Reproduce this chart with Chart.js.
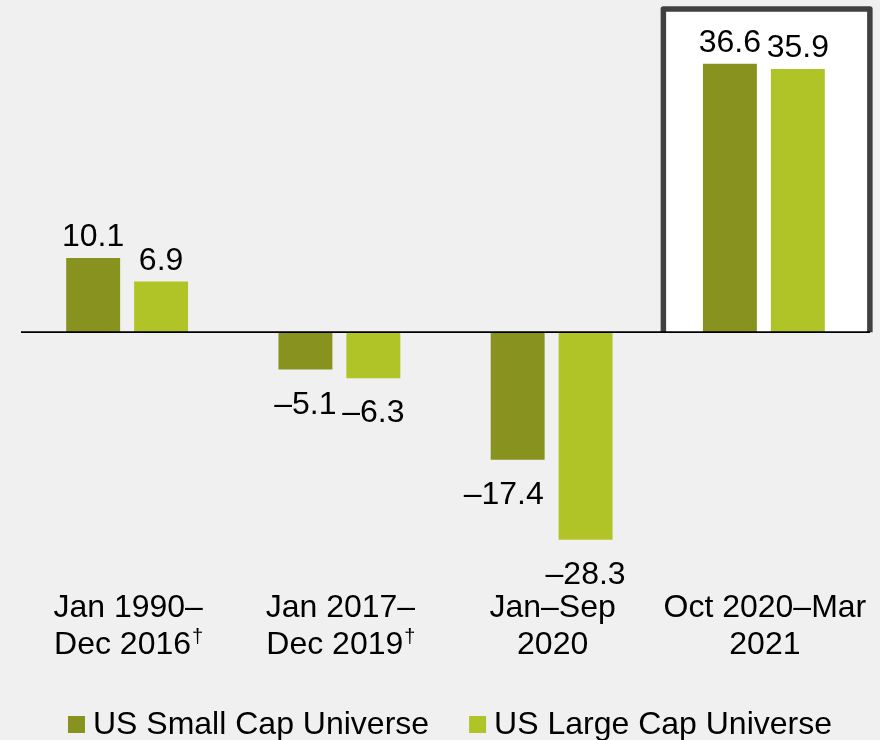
<!DOCTYPE html>
<html>
<head>
<meta charset="utf-8">
<script src="https://cdn.jsdelivr.net/npm/chart.js@4.4.1/dist/chart.umd.min.js"></script>
<style>
  html, body { margin: 0; padding: 0; background: #f0f0f0; }
  #wrap { width: 880px; height: 740px; position: relative; }
</style>
</head>
<body>
<div id="wrap"><canvas id="c"></canvas></div>
<script>
// ---- data ----
const categories = [
  ["Jan 1990–", "Dec 2016"],
  ["Jan 2017–", "Dec 2019"],
  ["Jan–Sep", "2020"],
  ["Oct 2020–Mar", "2021"]
];
const footnoteMarks = ["†", "†", "", ""];
const seriesNames = ["US Small Cap Universe", "US Large Cap Universe"];
const smallCap = [10.1, -5.1, -17.4, 36.6];
const largeCap = [6.9, -6.3, -28.3, 35.9];
const highlightIndex = 3;

// ---- styles ----
const FONT = "'Liberation Sans', Arial, sans-serif";
const FS = 32;
const colors = ["#87921f", "#b1c427"];
const bg = "#f0f0f0";

function fmt(v) {
  return (v < 0 ? "\u2013" + Math.abs(v).toFixed(1) : v.toFixed(1));
}

const bgPlugin = {
  id: "bgFill",
  beforeDraw(chart) {
    const ctx = chart.ctx;
    ctx.save();
    ctx.fillStyle = bg;
    ctx.fillRect(0, 0, chart.width, chart.height);
    ctx.restore();
  }
};

const highlightPlugin = {
  id: "highlightBox",
  beforeDatasetsDraw(chart) {
    const ctx = chart.ctx;
    const x = chart.scales.x, y = chart.scales.y;
    const cx = x.getPixelForValue(highlightIndex);
    const left = cx - 100.5, right = cx + 106;
    const top = 9, bottom = y.getPixelForValue(0);
    ctx.save();
    ctx.fillStyle = "#ffffff";
    ctx.fillRect(left, top, right - left, bottom - top);
    ctx.strokeStyle = "#404040";
    ctx.lineWidth = 5.5;
    ctx.lineJoin = "round";
    ctx.beginPath();
    ctx.moveTo(left, bottom);
    ctx.lineTo(left, top);
    ctx.lineTo(right, top);
    ctx.lineTo(right, bottom);
    ctx.stroke();
    ctx.restore();
  }
};

const overlayPlugin = {
  id: "overlay",
  afterDatasetsDraw(chart) {
    const ctx = chart.ctx;
    const area = chart.chartArea;
    const xs = chart.scales.x, ys = chart.scales.y;
    const y0 = ys.getPixelForValue(0);
    ctx.save();
    // zero line
    ctx.strokeStyle = "#000";
    ctx.lineWidth = 1.6;
    ctx.beginPath();
    ctx.moveTo(area.left, y0);
    ctx.lineTo(area.right, y0);
    ctx.stroke();

    // value labels
    ctx.fillStyle = "#000";
    ctx.font = FS + "px " + FONT;
    ctx.textAlign = "center";
    ctx.textBaseline = "alphabetic";
    chart.data.datasets.forEach((ds, di) => {
      const meta = chart.getDatasetMeta(di);
      meta.data.forEach((el, i) => {
        const v = ds.data[i];
        let tx = el.x;
        if (di === 0 && i === 2) tx -= 14;
        const ty = v >= 0 ? el.y - 12 : el.y + 44;
        ctx.fillText(fmt(v), tx, ty);
      });
    });

    // category labels
    categories.forEach((lines, i) => {
      const cx = xs.getPixelForValue(i);
      ctx.font = FS + "px " + FONT;
      ctx.textAlign = "center";
      ctx.fillText(lines[0], cx + 1, 617);
      const mark = footnoteMarks[i];
      if (mark) {
        const w1 = ctx.measureText(lines[1]).width;
        ctx.font = "20px " + FONT;
        const w2 = ctx.measureText(mark).width;
        const start = cx + 1 - (w1 + w2) / 2;
        ctx.textAlign = "left";
        ctx.font = FS + "px " + FONT;
        ctx.fillText(lines[1], start, 654);
        ctx.font = "20px " + FONT;
        ctx.fillText(mark, start + w1 + 1, 643);
      } else {
        ctx.fillText(lines[1], cx + 1, 654);
      }
    });

    // legend
    ctx.font = FS + "px " + FONT;
    ctx.textAlign = "left";
    const box = 17, gapBox = 8, gapItem = 40;
    const widths = chart.data.datasets.map(d => ctx.measureText(d.label).width);
    const total = widths.reduce((a, w) => a + box + gapBox + w, 0) + gapItem * (widths.length - 1);
    let lx = 450 - total / 2;
    chart.data.datasets.forEach((ds, di) => {
      ctx.fillStyle = ds.backgroundColor;
      ctx.fillRect(lx, 716, box, box);
      ctx.fillStyle = "#000";
      ctx.fillText(ds.label, lx + box + gapBox, 734);
      lx += box + gapBox + widths[di] + gapItem;
    });
    ctx.restore();
  }
};

new Chart(document.getElementById("c"), {
  type: "bar",
  data: {
    labels: categories.map(c => c.join(" ")),
    datasets: [
      { label: seriesNames[0], data: smallCap, backgroundColor: colors[0] },
      { label: seriesNames[1], data: largeCap, backgroundColor: colors[1] }
    ]
  },
  options: {
    responsive: true,
    maintainAspectRatio: false,
    animation: false,
    categoryPercentage: 0.64,
    barPercentage: 0.794,
    layout: { padding: { left: 21, right: 10, top: 9.5, bottom: 180.5 } },
    plugins: {
      legend: { display: false },
      tooltip: { enabled: false },
      title: { display: false }
    },
    scales: {
      x: { display: false, offset: true, grid: { display: false } },
      y: { display: false, min: -31, max: 44, grid: { display: false } }
    }
  },
  plugins: [bgPlugin, highlightPlugin, overlayPlugin]
});
</script>
</body>
</html>
